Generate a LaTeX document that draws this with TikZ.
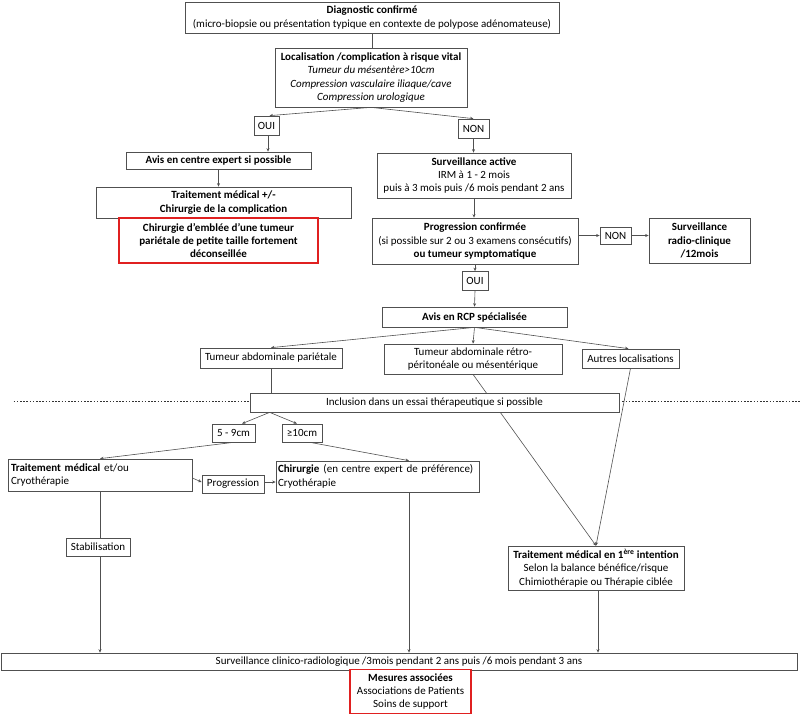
\documentclass[tikz,border=0pt]{standalone}
\usepackage{fontspec}
\setmainfont{Carlito}
\usetikzlibrary{arrows.meta,calc}
\newcommand\myfs{\fontsize{11}{13.3}\selectfont}
\definecolor{lc}{HTML}{505050}
\definecolor{rc}{HTML}{E02020}
\tikzset{
  box/.style={draw=lc, line width=0.7pt, inner sep=0.5pt, align=center, font=\myfs, fill=white},
  lbox/.style={box, align=left, inner xsep=2pt},
  redbox/.style={box, draw=rc, line width=1.3pt},
  arr/.style={draw=lc, line width=0.6pt, -{Stealth[length=3.5pt,width=3pt]}},
  ln/.style={draw=lc, line width=0.6pt},
  dotline/.style={draw=black!80, line width=1.8pt, dash pattern=on 1.6pt off 1.6pt}
}
\begin{document}
\begin{tikzpicture}[x=1pt,y=-1pt]
\useasboundingbox (0,0) rectangle (800,721);
% top
\node[box, minimum width=374pt, minimum height=31pt] (diag) at (372,17.5)
  {\textbf{Diagnostic confirmé}\\(micro-biopsie ou présentation typique en contexte de polypose adénomateuse)};
\node[box, minimum width=192pt, minimum height=59pt] (loc) at (371,77.5)
  {\textbf{Localisation /complication à risque vital}\\\textit{Tumeur du mésentère>10cm}\\\textit{Compression vasculaire iliaque/cave}\\\textit{Compression urologique}};
\node[box, minimum width=25pt, minimum height=19pt] (oui1) at (266.5,125.5) {OUI};
\node[box, minimum width=31pt, minimum height=19pt] (non1) at (473.5,128.5) {NON};
\node[box, minimum width=185pt, minimum height=17pt] (avis) at (218.5,160.5) {\textbf{Avis en centre expert si possible}};
\node[box, minimum width=255pt, minimum height=31pt] (trait) at (223.5,202.5) {\textbf{Traitement médical +/-}\\\textbf{Chirurgie de la complication}};
\node[redbox, minimum width=199pt, minimum height=45pt] (red1) at (218.5,240.5)
  {\textbf{Chirurgie d’emblée d’une tumeur}\\\textbf{pariétale de petite taille fortement}\\\textbf{déconseillée}};
\node[box, minimum width=194pt, minimum height=45pt] (surv) at (474,175.5)
  {\textbf{Surveillance active}\\IRM à 1 - 2 mois\\puis à 3 mois puis /6 mois pendant 2 ans};
\node[box, minimum width=206pt, minimum height=46pt] (prog) at (475,241)
  {\textbf{Progression confirmée}\\(si possible sur 2 ou 3 examens consécutifs)\\\textbf{ou tumeur symptomatique}};
\node[box, minimum width=31pt, minimum height=17pt] (non2) at (615.5,235.5) {NON};
\node[box, minimum width=101pt, minimum height=45pt] (src) at (699.5,240.5)
  {\textbf{Surveillance}\\\textbf{radio-clinique}\\\textbf{/12mois}};
\node[box, minimum width=26pt, minimum height=19pt] (oui2) at (475,281) {OUI};
\node[box, minimum width=185pt, minimum height=20pt] (rcp) at (474.5,317) {\textbf{Avis en RCP spécialisée}};
\node[box, minimum width=142pt, minimum height=20pt] (pariet) at (271,358) {Tumeur abdominale pariétale};
\node[box, minimum width=178pt, minimum height=30pt] (retro) at (473,359) {Tumeur abdominale rétro-\\péritonéale ou mésentérique};
\node[box, minimum width=97pt, minimum height=19pt] (autres) at (630.5,358.5) {Autres localisations};
\node[box, minimum width=176pt, minimum height=44pt] (t1) at (596,568)
  {\textbf{Traitement médical en 1\textsuperscript{ère} intention}\\Selon la balance bénéfice/risque\\Chimiothérapie ou Thérapie ciblée};
% connectors top
\draw[ln] (diag.south) -- (diag.south |- loc.north);
\draw[arr] (loc.south) -- ($(oui1.north)+(3,0)$);
\draw[arr] (loc.south) -- (non1.north);
\draw[arr] ($(oui1.south)+(1.5,0)$) -- ($(oui1.south |- avis.north)+(1.5,0)$);
\draw[arr] (avis.south) -- (avis.south |- trait.north);
\draw[arr] (non1.south) -- (non1.south |- surv.north);
\draw[arr] (surv.south) -- (surv.south |- prog.north);
\draw[arr] (prog.east |- non2) -- (non2.west);
\draw[arr] (non2.east) -- (non2.east -| src.west);
\draw[arr] (prog.south) -- (oui2.north);
\draw[arr] (oui2.south) -- (rcp.north);
\draw[arr] (rcp.south) -- (pariet.north);
\draw[arr] (rcp.south) -- (retro.north);
\draw[arr] (rcp.south) -- ($(autres.north)+(-2,0)$);
\draw[arr] (retro.south) -- (t1.north);
\draw[arr] (autres.south) -- (t1.north);
% inclusion
\node[box, minimum width=369pt, minimum height=19pt] (incl) at (434.5,402.5) {Inclusion dans un essai thérapeutique si possible};
\draw[dotline] ($(incl.west)+(-236,-1)$) -- ($(incl.west)+(-1,-1)$);
\draw[dotline] ($(incl.east)+(3,-1)$) -- ($(incl.east)+(181,-1)$);
\draw[ln] (pariet.south) -- (pariet.south |- incl.north);
\node[box, minimum width=43pt, minimum height=18pt] (n59) at (233.5,433) {5 - 9cm};
\node[box, minimum width=40pt, minimum height=18pt] (n10) at (302,433) {≥10cm};
\coordinate (isplit) at ($(incl.south west)+(20,0)$);
\draw[arr] (isplit) -- ($(n59.north)+(8.5,0)$);
\draw[arr] (isplit) -- ($(n10.north)+(-5,0)$);
\node[lbox, inner xsep=3pt, minimum width=184pt, text width=178pt, minimum height=32pt] (tm) at (100,475) {\textbf{Traitement médical} et/ou\\Cryothérapie};
\node[box, minimum width=62pt, minimum height=18pt] (progr) at (233,484) {Progression};
\node[lbox, minimum width=203pt, text width=199pt, minimum height=31pt] (chir) at (377.5,476.5) {\textbf{Chirurgie}\hspace{4pt}(en centre expert de préférence)\\Cryothérapie};
\coordinate (cx) at (409,0);
\draw[arr] (n59.south) -- (tm.north);
\draw[arr] ($(n10.south)+(8,0)$) -- (chir.north -| cx);
\draw[arr] ($(tm.east)+(0,3)$) -- ($(progr.west)+(0,-2)$);
\coordinate (pe) at ($(progr.east)+(0,-2)$);
\draw[arr] (pe) -- (pe -| chir.west);
\node[box, minimum width=64pt, minimum height=18pt] (stab) at (98,547) {Stabilisation};
\draw[ln] (tm.south) -- (tm.south |- stab.north);
% bottom
\node[box, minimum width=796pt, minimum height=17pt] (bar) at (399,661.5) {Surveillance clinico-radiologique /3mois pendant 2 ans puis /6 mois pendant 3 ans};
\draw[arr] (tm.south |- stab.south) -- (tm.south |- bar.north);
\draw[arr] (chir.south -| cx) -- (cx |- bar.north);
\draw[arr] ($(t1.south)+(2,0)$) -- ($(t1.south |- bar.north)+(2,0)$);
\node[redbox, minimum width=121pt, minimum height=44pt] (mes) at (410.5,691.5)
  {\textbf{Mesures associées}\\Associations de Patients\\Soins de support};
\end{tikzpicture}
\end{document}
